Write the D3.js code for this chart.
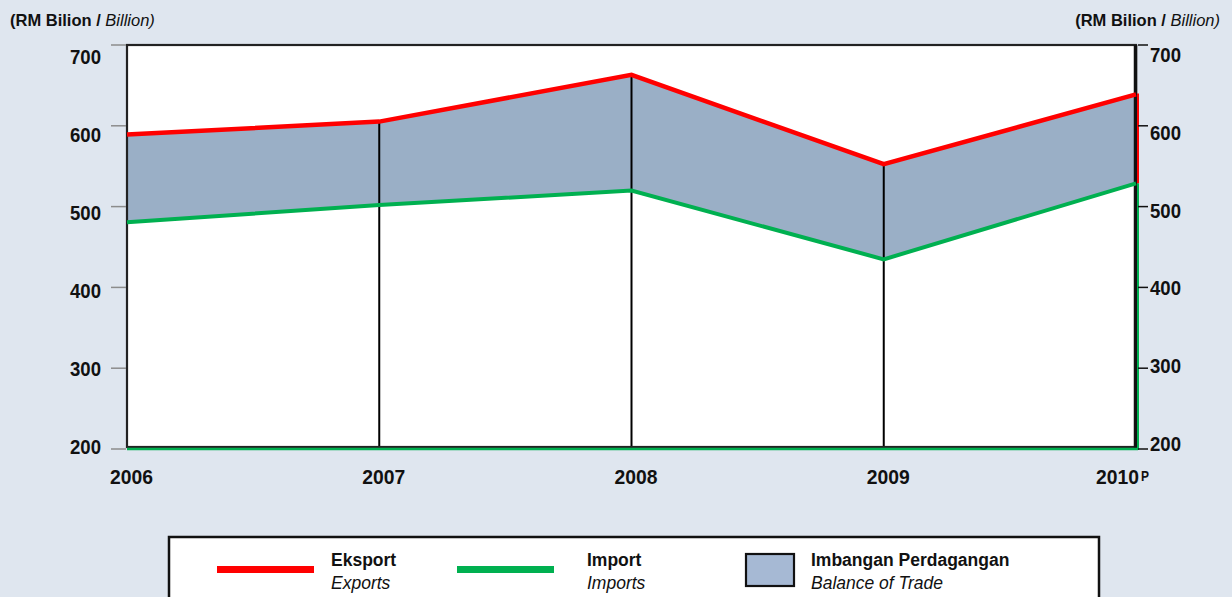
<!DOCTYPE html>
<html><head><meta charset="utf-8">
<script src="https://cdn.jsdelivr.net/npm/d3@7/dist/d3.min.js"></script>
<style>
html,body{margin:0;padding:0;background:#dfe6ef;}
svg{display:block;font-family:"Liberation Sans",Arial,sans-serif;}
</style></head>
<body>
<svg id="c" width="1232" height="597"></svg>
<script>
const years = ["2006","2007","2008","2009","2010"];
const exportsRM = [589.2, 605.2, 663.0, 552.5, 638.8];
const importsRM = [480.5, 502.0, 519.8, 434.7, 528.8];
const yTicks = [200, 300, 400, 500, 600, 700];
const legendMalay = ["Eksport", "Import", "Imbangan Perdagangan"];
const legendEnglish = ["Exports", "Imports", "Balance of Trade"];
const unitBold = "(RM Bilion / ";
const unitItalic = "Billion)";

const C = {bg:"#dfe6ef", fill:"#9aafc6", red:"#ff0000", green:"#00b050", swatch:"#a6b9d4"};
const svg = d3.select("#c");
const L = 127, R = 1136, T = 45, B = 449;

const x = d3.scalePoint().domain(years).range([L, R]);
const y = d3.scaleLinear().domain([200, 700]).range([B, T]);
// tick label placement (labels sit slightly off their ticks in the original)
const yLabL = d3.scaleLinear().domain([200, 700]).range([454, 64]);
const yLabR = d3.scaleLinear().domain([200, 700]).range([451, 62]);

const data = years.map((yr, i) => ({yr, ex: exportsRM[i], im: importsRM[i]}));

// plot background
svg.append("rect").attr("x", L).attr("y", T).attr("width", R - L).attr("height", B - T).attr("fill", "#fff");

// balance of trade band
svg.append("path").datum(data)
  .attr("d", d3.area().x(d => x(d.yr)).y0(d => y(d.im)).y1(d => y(d.ex)))
  .attr("fill", C.fill);

// drop lines
svg.selectAll(".drop").data(data.slice(1, -1)).join("line")
  .attr("x1", d => x(d.yr)).attr("x2", d => x(d.yr))
  .attr("y1", d => y(d.ex)).attr("y2", B)
  .attr("stroke", "#000").attr("stroke-width", 2);

// frame
svg.append("rect").attr("x", L).attr("y", T).attr("width", R - L).attr("height", B - T - 2)
  .attr("fill", "none").attr("stroke", "#222").attr("stroke-width", 2.2);
svg.append("line").attr("x1", R - 0.5).attr("x2", R - 0.5).attr("y1", T).attr("y2", B)
  .attr("stroke", "#111").attr("stroke-width", 3.5);

// green import outline (line + right edge + bottom)
const last = data[data.length - 1];
svg.append("path").datum(data)
  .attr("d", d3.line().x(d => x(d.yr)).y(d => y(d.im)))
  .attr("fill", "none").attr("stroke", C.green).attr("stroke-width", 4);
svg.append("line").attr("x1", R + 2).attr("x2", R + 2).attr("y1", y(last.im)).attr("y2", B + 1)
  .attr("stroke", C.green).attr("stroke-width", 2);
svg.append("line").attr("x1", L).attr("x2", R + 2).attr("y1", B).attr("y2", B)
  .attr("stroke", C.green).attr("stroke-width", 2.5);

// red export outline
svg.append("path").datum(data)
  .attr("d", d3.line().x(d => x(d.yr)).y(d => y(d.ex)))
  .attr("fill", "none").attr("stroke", C.red).attr("stroke-width", 4.5);
svg.append("line").attr("x1", R + 2).attr("x2", R + 2).attr("y1", y(last.ex) - 1).attr("y2", y(last.im))
  .attr("stroke", C.red).attr("stroke-width", 2);

// left axis ticks
svg.append("g").selectAll("line").data(yTicks).join("line")
  .attr("x1", 111).attr("x2", L - 1).attr("y1", d => y(d)).attr("y2", d => y(d))
  .attr("stroke", "#8c8c8c").attr("stroke-width", 1.5);
svg.append("g").selectAll("text").data(yTicks).join("text")
  .attr("x", 101).attr("y", d => yLabL(d)).attr("text-anchor", "end")
  .attr("font-size", 21).attr("font-weight", "bold").attr("fill", "#111")
  .attr("textLength", 31).attr("lengthAdjust", "spacingAndGlyphs")
  .text(d => d);

// right axis ticks
svg.append("g").selectAll("line").data(yTicks).join("line")
  .attr("x1", R + 2).attr("x2", 1148).attr("y1", d => y(d)).attr("y2", d => y(d))
  .attr("stroke", "#111").attr("stroke-width", 1.5);
svg.append("g").selectAll("text").data(yTicks).join("text")
  .attr("x", 1150).attr("y", d => yLabR(d)).attr("text-anchor", "start")
  .attr("font-size", 21).attr("font-weight", "bold").attr("fill", "#111")
  .attr("textLength", 31).attr("lengthAdjust", "spacingAndGlyphs")
  .text(d => d);

// x labels
const lastYr = years[years.length - 1];
svg.append("g").selectAll("text").data(years).join("text")
  .attr("x", d => d === lastYr ? x(d) - 40 : x(d) - 17).attr("y", 484)
  .attr("font-size", 21).attr("font-weight", "bold").attr("fill", "#111")
  .attr("textLength", 43).attr("lengthAdjust", "spacingAndGlyphs")
  .text(d => d);
svg.append("text").attr("x", x(lastYr) + 5).attr("y", 481)
  .attr("font-size", 14).attr("font-weight", "bold").attr("fill", "#111")
  .attr("textLength", 8).attr("lengthAdjust", "spacingAndGlyphs").text("P");

// unit labels
function unit(xp, anchor) {
  const t = svg.append("text").attr("x", xp).attr("y", 26).attr("text-anchor", anchor)
    .attr("font-size", 16.5).attr("fill", "#111");
  t.append("tspan").attr("font-weight", "bold").text(unitBold);
  t.append("tspan").attr("font-style", "italic").text(unitItalic);
}
unit(10, "start");
unit(1220, "end");

// legend
svg.append("rect").attr("x", 169).attr("y", 537).attr("width", 930).attr("height", 80)
  .attr("fill", "#fff").attr("stroke", "#111").attr("stroke-width", 2.5);
const legX = [217, 457, 745];
const txtX = [331, 587, 811];
const swColors = [C.red, C.green];
legX.forEach((lx, i) => {
  if (i < 2) {
    svg.append("rect").attr("x", lx).attr("y", 566).attr("width", 97).attr("height", 7).attr("fill", swColors[i]);
  } else {
    svg.append("rect").attr("x", lx + 1).attr("y", 554).attr("width", 48).attr("height", 32)
      .attr("fill", C.swatch).attr("stroke", "#111").attr("stroke-width", 2.2);
  }
  svg.append("text").attr("x", txtX[i]).attr("y", 566).attr("font-size", 17.5).attr("font-weight", "bold")
    .attr("fill", "#111").text(legendMalay[i]);
  svg.append("text").attr("x", txtX[i]).attr("y", 589).attr("font-size", 17.5).attr("font-style", "italic")
    .attr("fill", "#111").text(legendEnglish[i]);
});
</script>
</body></html>
